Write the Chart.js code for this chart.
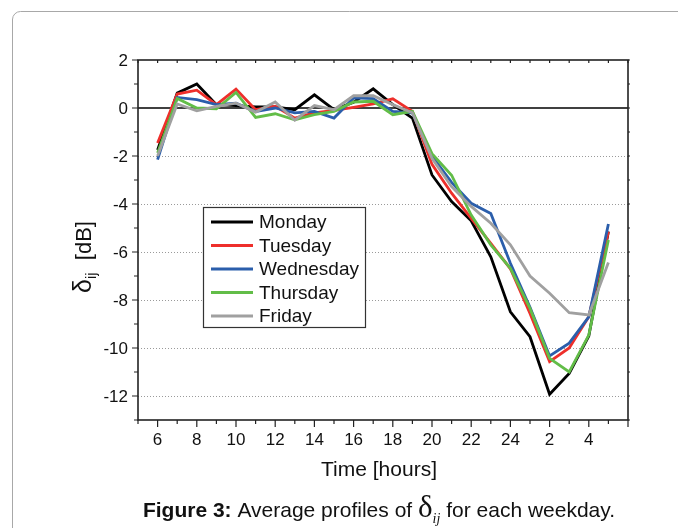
<!DOCTYPE html>
<html>
<head>
<meta charset="utf-8">
<script src="https://cdn.jsdelivr.net/npm/chart.js@4.4.1/dist/chart.umd.min.js"></script>
<style>
  html, body { margin: 0; padding: 0; background: #fff; }
  #wrap { position: relative; width: 678px; height: 528px; }
</style>
</head>
<body>
<div id="wrap"><canvas id="myChart" width="678" height="528"></canvas></div>
<script>
// hours of the day, 24 + h for the early morning of the next day
var hours = [6, 7, 8, 9, 10, 11, 12, 13, 14, 15, 16, 17, 18, 19, 20, 21, 22, 23, 24, 25, 26, 27, 28, 29];

var monday    = [-1.75, 0.62, 1.0, 0.14, 0.1, 0.05, 0.05, -0.07, 0.55, -0.07, 0.24, 0.8, 0.14, -0.42, -2.79, -3.9, -4.7, -6.2, -8.49, -9.53, -11.93, -11.06, -9.5, -5.15];
var tuesday   = [-1.46, 0.58, 0.74, 0.14, 0.79, -0.07, 0.07, -0.42, -0.2, -0.1, 0.03, 0.17, 0.38, -0.14, -2.35, -3.55, -4.6, -5.64, -6.7, -8.56, -10.57, -10.0, -8.7, -5.15];
var wednesday = [-2.15, 0.44, 0.35, 0.14, 0.2, -0.15, 0.0, -0.2, -0.14, -0.42, 0.42, 0.39, -0.14, -0.2, -2.0, -3.1, -3.97, -4.4, -6.47, -8.3, -10.33, -9.8, -8.7, -4.83];
var thursday  = [-1.87, 0.4, 0.0, -0.03, 0.65, -0.39, -0.24, -0.49, -0.28, -0.14, 0.25, 0.28, -0.28, -0.14, -1.9, -2.8, -4.46, -5.7, -6.68, -8.35, -10.43, -11.0, -9.46, -5.5];
var friday    = [-2.0, 0.17, -0.12, 0.07, 0.2, -0.17, 0.25, -0.51, 0.1, -0.07, 0.51, 0.51, 0.14, -0.2, -2.1, -3.28, -4.1, -4.8, -5.7, -7.0, -7.72, -8.53, -8.62, -6.44];

var dayNames  = ['Monday', 'Tuesday', 'Wednesday', 'Thursday', 'Friday'];
var dayColors = ['#000000', '#ee2f2b', '#2b5eab', '#62bd48', '#a0a0a0'];

var xTickValues = [6, 8, 10, 12, 14, 16, 18, 20, 22, 24, 26, 28];
var xTickLabels = ['6', '8', '10', '12', '14', '16', '18', '20', '22', '24', '2', '4'];
var yTickValues = [2, 0, -2, -4, -6, -8, -10, -12];
var yGridValues = [-2, -4, -6, -8, -10, -12];

var FONT = '"Liberation Sans", Arial, sans-serif';
var SERIF = '"Liberation Serif", "Times New Roman", serif';

function toPoints(arr) {
    var pts = [];
    for (var i = 0; i < hours.length; i++) pts.push({ x: hours[i], y: arr[i] });
    return pts;
}

// draw a run of text pieces with their own fonts, centred on cx
function drawRuns(ctx, runs, cx, y) {
    var w = 0;
    runs.forEach(function (p) { ctx.font = p.f; w += ctx.measureText(p.t).width; });
    var x = cx - w / 2;
    runs.forEach(function (p) {
        ctx.font = p.f;
        ctx.fillText(p.t, x, y + p.dy);
        x += ctx.measureText(p.t).width;
    });
}

var series = [monday, tuesday, wednesday, thursday, friday];
var datasets = [];
for (var i = 0; i < series.length; i++) {
    datasets.push({
        label: dayNames[i],
        data: toPoints(series[i]),
        borderColor: dayColors[i],
        backgroundColor: dayColors[i],
        borderWidth: 2.8,
        pointRadius: 0,
        tension: 0,
        order: series.length - i   // later days drawn on top
    });
}

// grid lines and the zero line, under the curves
var backdrop = {
    id: 'backdrop',
    beforeDatasetsDraw: function (chart) {
        var ctx = chart.ctx, a = chart.chartArea;
        var ys = chart.scales.y;
        ctx.save();
        ctx.strokeStyle = '#9a9a9a';
        ctx.lineWidth = 1;
        ctx.setLineDash([1, 2]);
        yGridValues.forEach(function (v) {
            var py = Math.round(ys.getPixelForValue(v)) + 0.5;
            ctx.beginPath();
            ctx.moveTo(a.left, py);
            ctx.lineTo(a.right, py);
            ctx.stroke();
        });
        ctx.setLineDash([]);
        ctx.strokeStyle = '#000';
        ctx.lineWidth = 1.6;
        var p0 = ys.getPixelForValue(0);
        ctx.beginPath();
        ctx.moveTo(a.left, p0);
        ctx.lineTo(a.right, p0);
        ctx.stroke();
        ctx.restore();
    }
};

// frame, ticks, labels, legend and caption
var decorations = {
    id: 'decorations',
    afterDraw: function (chart) {
        var ctx = chart.ctx, a = chart.chartArea;
        var xs = chart.scales.x, ys = chart.scales.y;
        ctx.save();

        // outer panel
        ctx.strokeStyle = '#a8a8a8';
        ctx.lineWidth = 1;
        ctx.beginPath();
        ctx.moveTo(12.5, 540);
        ctx.lineTo(12.5, 19);
        ctx.arcTo(12.5, 11.5, 20, 11.5, 8);
        ctx.lineTo(690, 11.5);
        ctx.stroke();

        // axis box
        ctx.strokeStyle = '#222';
        ctx.lineWidth = 1.6;
        ctx.strokeRect(a.left, a.top, a.right - a.left, a.bottom - a.top);

        // x ticks (bottom outward, top inward)
        ctx.lineWidth = 1.2;
        for (var h = 5; h <= 30; h++) {
            var px = xs.getPixelForValue(h);
            var major = (h % 2 === 0);
            ctx.beginPath();
            ctx.moveTo(px, a.bottom);
            ctx.lineTo(px, a.bottom + (major ? 7 : 4));
            ctx.moveTo(px, a.top);
            ctx.lineTo(px, a.top + 3);
            ctx.stroke();
        }
        // y ticks (left outward, right outward small)
        for (var v = -13; v <= 2; v++) {
            var py = ys.getPixelForValue(v);
            var majorY = (v % 2 === 0);
            ctx.beginPath();
            ctx.moveTo(a.left, py);
            ctx.lineTo(a.left - (majorY ? 6 : 4), py);
            ctx.moveTo(a.right, py);
            ctx.lineTo(a.right + 2, py);
            ctx.stroke();
        }

        // tick labels
        ctx.fillStyle = '#111';
        ctx.font = '17px ' + FONT;
        ctx.textAlign = 'center';
        ctx.textBaseline = 'alphabetic';
        xTickValues.forEach(function (val, k) {
            ctx.fillText(xTickLabels[k], xs.getPixelForValue(val), 445);
        });
        ctx.textAlign = 'right';
        ctx.textBaseline = 'middle';
        yTickValues.forEach(function (val) {
            ctx.fillText(String(val), a.left - 10, ys.getPixelForValue(val) + 1);
        });

        // axis titles
        ctx.textAlign = 'left';
        ctx.textBaseline = 'alphabetic';
        drawRuns(ctx, [{ t: 'Time [hours]', f: '21px ' + FONT, dy: 0 }], 379, 476);

        ctx.save();
        ctx.translate(91, 257);
        ctx.rotate(-Math.PI / 2);
        drawRuns(ctx, [
            { t: '\u03b4', f: '25px ' + FONT, dy: 0 },
            { t: 'ij', f: '15px ' + FONT, dy: 5 },
            { t: '  [dB]', f: '22px ' + FONT, dy: 0 }
        ], 0, 0);
        ctx.restore();

        // legend
        var lx = 203.5, ly = 207.5, lw = 162, lh = 120;
        ctx.fillStyle = '#fff';
        ctx.fillRect(lx, ly, lw, lh);
        ctx.strokeStyle = '#333';
        ctx.lineWidth = 1.2;
        ctx.strokeRect(lx, ly, lw, lh);
        ctx.font = '19px ' + FONT;
        ctx.textBaseline = 'middle';
        chart.data.datasets.forEach(function (ds, k) {
            var ry = 222 + k * 23.5;
            ctx.strokeStyle = ds.borderColor;
            ctx.lineWidth = 2.8;
            ctx.beginPath();
            ctx.moveTo(211, ry);
            ctx.lineTo(253, ry);
            ctx.stroke();
            ctx.fillStyle = '#111';
            ctx.fillText(ds.label, 259, ry + 1);
        });

        // caption
        ctx.textBaseline = 'alphabetic';
        ctx.fillStyle = '#111';
        drawRuns(ctx, [
            { t: 'Figure 3:', f: 'bold 21px ' + FONT, dy: 0 },
            { t: ' Average profiles of ', f: '21px ' + FONT, dy: 0 },
            { t: '\u03b4', f: '31px ' + SERIF, dy: 0 },
            { t: 'ij', f: 'italic 14px ' + SERIF, dy: 6 },
            { t: ' for each weekday.', f: '21px ' + FONT, dy: 0 }
        ], 379, 517);

        ctx.restore();
    }
};

var ctx = document.getElementById('myChart').getContext('2d');
var chart = new Chart(ctx, {
    type: 'line',
    data: { datasets: datasets },
    options: {
        responsive: false,
        animation: false,
        layout: { padding: { left: 138, right: 50, top: 60, bottom: 108 } },
        plugins: { legend: { display: false }, tooltip: { enabled: false } },
        scales: {
            x: { type: 'linear', min: 5, max: 30, display: false },
            y: { type: 'linear', min: -13, max: 2, display: false }
        }
    },
    plugins: [backdrop, decorations]
});
</script>
</body>
</html>
